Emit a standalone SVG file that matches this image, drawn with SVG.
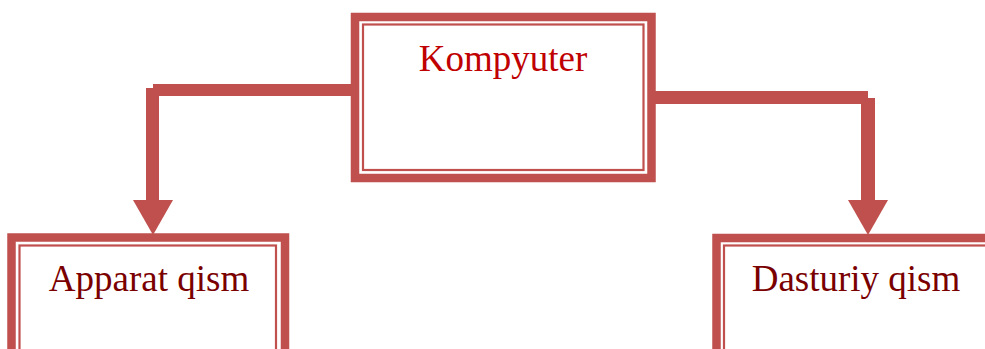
<svg xmlns="http://www.w3.org/2000/svg" width="985" height="349" viewBox="0 0 985 349">
<style>
.outer{fill:#fff;stroke:#C0504D;stroke-width:8.5}
.inner{fill:none;stroke:#C0504D;stroke-width:2.2}
.conn{fill:#C0504D}
.lbl{font-family:"Liberation Serif","Times New Roman",serif;font-size:37px;text-anchor:middle}
</style>
<rect width="985" height="349" fill="#fff"/>
<g id="connectors">
<rect class="conn" x="153" y="84" width="204" height="12"/>
<rect class="conn" x="146" y="88" width="13" height="114"/>
<polygon class="conn" points="133,200 173,200 153,235"/>
<rect class="conn" x="653" y="91" width="215" height="13"/>
<rect class="conn" x="861" y="98" width="14" height="104"/>
<polygon class="conn" points="848,200 888,200 868,235"/>
</g>
<g id="kompyuter">
<rect class="outer" x="355" y="17" width="296.5" height="161"/>
<rect class="inner" x="363" y="24.5" width="280.5" height="145.5"/>
<text class="lbl" x="503" y="71" fill="#C00000">Kompyuter</text>
</g>
<g id="apparat">
<rect class="outer" x="11.5" y="237.5" width="273.5" height="130"/>
<rect class="inner" x="19.5" y="245.5" width="256.5" height="120"/>
<text class="lbl" x="149" y="291" fill="#7A0000">Apparat qism</text>
</g>
<g id="dasturiy">
<rect class="outer" x="716.5" y="238" width="300" height="130"/>
<rect class="inner" x="724" y="245.5" width="290" height="120"/>
<text class="lbl" x="856" y="291" fill="#7A0000">Dasturiy qism</text>
</g>
</svg>
